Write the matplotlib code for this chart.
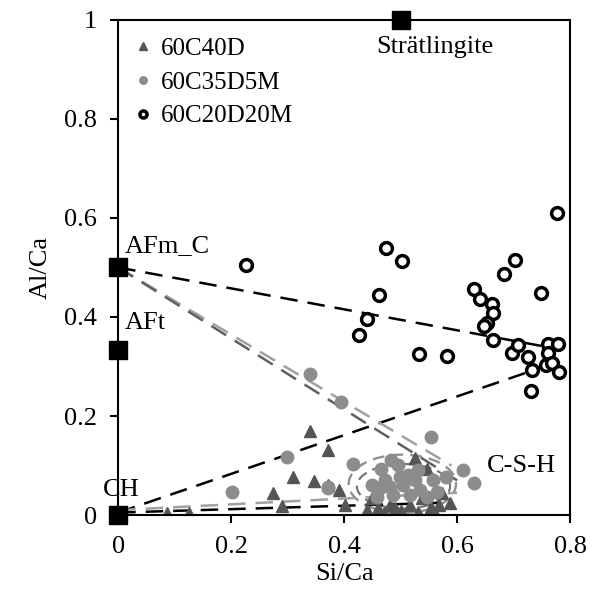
import matplotlib.pyplot as plt
import numpy as np
from matplotlib.patches import Ellipse

plt.rcParams['font.family'] = ['Liberation Serif', 'DejaVu Serif']
plt.rcParams['font.size'] = 19

# 60C40D (triangles)
tri_x = [0.340, 0.371, 0.310, 0.347, 0.371, 0.274, 0.290, 0.390, 0.086, 0.126,
         0.402, 0.449, 0.466, 0.460, 0.481, 0.526, 0.546, 0.517, 0.537, 0.553,
         0.573, 0.588, 0.567, 0.490, 0.455, 0.470, 0.500, 0.530, 0.560, 0.440]
tri_y = [0.170, 0.131, 0.077, 0.069, 0.061, 0.044, 0.018, 0.051, 0.005, 0.005,
         0.020, 0.034, 0.064, 0.014, 0.020, 0.115, 0.094, 0.020, 0.034, 0.017,
         0.044, 0.024, 0.020, 0.014, 0.034, 0.005, 0.008, 0.006, 0.004, 0.010]

# 60C35D5M (filled grey circles)
gc_x = [0.340, 0.394, 0.298, 0.201, 0.371, 0.553, 0.416, 0.466, 0.483, 0.495,
        0.611, 0.629, 0.513, 0.499, 0.464, 0.481, 0.505, 0.526, 0.558, 0.535,
        0.564, 0.487, 0.517, 0.458, 0.546, 0.372, 0.581, 0.472, 0.450, 0.530]
gc_y = [0.284, 0.229, 0.118, 0.046, 0.055, 0.157, 0.104, 0.094, 0.111, 0.101,
        0.091, 0.064, 0.081, 0.077, 0.054, 0.057, 0.061, 0.071, 0.071, 0.051,
        0.047, 0.040, 0.040, 0.037, 0.037, 0.057, 0.077, 0.071, 0.060, 0.090]

# 60C20D20M (open circles)
oc_x = [0.226, 0.426, 0.440, 0.462, 0.474, 0.502, 0.532, 0.582, 0.629, 0.640,
        0.661, 0.664, 0.653, 0.647, 0.664, 0.683, 0.703, 0.697, 0.708, 0.726,
        0.732, 0.731, 0.748, 0.760, 0.761, 0.757, 0.768, 0.779, 0.780, 0.776]
oc_y = [0.505, 0.364, 0.396, 0.444, 0.539, 0.513, 0.326, 0.322, 0.456, 0.436,
        0.426, 0.409, 0.388, 0.382, 0.353, 0.487, 0.515, 0.327, 0.343, 0.320,
        0.292, 0.250, 0.449, 0.345, 0.328, 0.303, 0.308, 0.345, 0.288, 0.609]

# reference phases
phase_names = ['Strätlingite', 'AFm_C', 'AFt', 'CH']
phase_x = [0.5, 0.0, 0.0, 0.0]
phase_y = [1.0, 0.5, 1 / 3, 0.0]

fig = plt.figure(figsize=(5.97, 6.01), dpi=100)
ax = fig.add_axes([0.198, 0.143, 0.757, 0.824])

# tie lines
ax.plot([0, 0.78], [0.5, 0.335], '--', color='black', lw=1.8, dashes=(7, 4))
ax.plot([0, 0.78], [0.005, 0.31], '--', color='black', lw=1.8, dashes=(7, 4))
ax.plot([0, 0.58], [0.005, 0.025], '--', color='black', lw=1.8, dashes=(7, 4))
ax.plot([0, 0.59], [0.5, 0.10], '--', color='#a0a0a0', lw=1.8, dashes=(7, 4))
ax.plot([0, 0.60], [0.5, 0.07], '--', color='#606060', lw=1.8, dashes=(7, 4))
ax.plot([0, 0.60], [0.01, 0.045], '--', color='#a0a0a0', lw=1.8, dashes=(7, 4))

ax.add_patch(Ellipse((0.503, 0.063), 0.19, 0.118, fill=False, ec='#909090',
                     ls=(0, (5, 3)), lw=1.7))
ax.add_patch(Ellipse((0.505, 0.058), 0.165, 0.09, fill=False, ec='#707070',
                     ls=(0, (5, 3)), lw=1.5))

ax.plot(tri_x, tri_y, '^', color='#555555', ms=9, ls='none', label='60C40D')
ax.plot(gc_x, gc_y, 'o', color='#8c8c8c', ms=9, ls='none', label='60C35D5M')
ax.plot(oc_x, oc_y, 'o', mfc='white', mec='black', mew=2.5, ms=8.5, ls='none',
        label='60C20D20M')

ax.plot(phase_x, phase_y, 's', color='black', ms=13, ls='none', clip_on=False,
        zorder=5)

ax.text(0.56, 0.945, phase_names[0], ha='center', va='center')
ax.text(0.012, 0.543, phase_names[1], ha='left', va='center')
ax.text(0.012, 0.387, phase_names[2], ha='left', va='center')
ax.text(-0.028, 0.05, phase_names[3], ha='left', va='center')
ax.text(0.652, 0.1, 'C-S-H', ha='left', va='center')

ax.set_xlim(0, 0.8)
ax.set_ylim(0, 1)
ax.set_xticks([0, 0.2, 0.4, 0.6, 0.8])
ax.set_xticklabels(['0', '0.2', '0.4', '0.6', '0.8'])
ax.set_yticks([0, 0.2, 0.4, 0.6, 0.8, 1.0])
ax.set_yticklabels(['0', '0.2', '0.4', '0.6', '0.8', '1'])
ax.tick_params(direction='out', length=6, width=1.5, pad=9)
for s in ax.spines.values():
    s.set_linewidth(1.5)
ax.set_xlabel('Si/Ca', labelpad=4)
ax.set_ylabel('Al/Ca', labelpad=9)

leg = ax.legend(loc='upper left', frameon=False, fontsize=18, markerscale=0.6,
                handlelength=0.6, handletextpad=0.4, labelspacing=0.45,
                borderaxespad=0.3)

fig.savefig('out.png', dpi=100)
